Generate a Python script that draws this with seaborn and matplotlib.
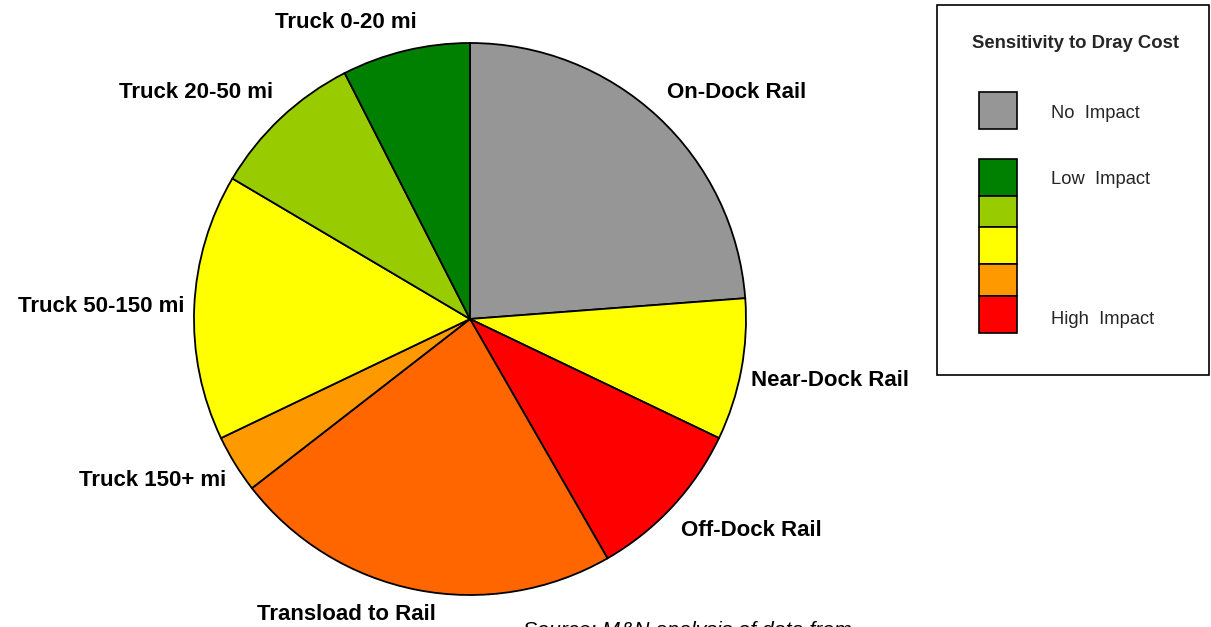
import matplotlib
matplotlib.use("Agg")
import matplotlib.pyplot as plt
import seaborn as sns
from matplotlib.patches import Rectangle

sns.set_theme(style="white")
plt.rcParams['font.family'] = ['Liberation Sans', 'DejaVu Sans']

# Share of volume by mode (clockwise from 12 o'clock)
segments = ['On-Dock Rail', 'Near-Dock Rail', 'Off-Dock Rail', 'Transload to Rail',
            'Truck 150+ mi', 'Truck 50-150 mi', 'Truck 20-50 mi', 'Truck 0-20 mi']
shares = [23.8, 8.3, 9.6, 22.8, 3.4, 15.6, 9.0, 7.5]
seg_colors = ['#969696', '#FFFF00', '#FF0000', '#FF6600',
              '#FF9900', '#FFFF00', '#99CC00', '#008000']

legend_colors = ['#008000', '#99CC00', '#FFFF00', '#FF9900', '#FF0000']
legend_labels = ['No  Impact', 'Low  Impact', 'High  Impact']

W, H = 1211, 627
fig = plt.figure(figsize=(W / 100, H / 100), dpi=100)

# pie
cx, cy, r = 470, 319, 276
ax = fig.add_axes([(cx - r) / W, (H - cy - r) / H, 2 * r / W, 2 * r / H])
ax.pie(shares, colors=seg_colors, startangle=90, counterclock=False,
       wedgeprops=dict(edgecolor='black', linewidth=1.3))
ax.set_xlim(-1, 1)
ax.set_ylim(-1, 1)
ax.axis('off')

# slice labels (pixel positions of the text)
label_pos = {
    'Truck 0-20 mi': (346, 23, 'center'),
    'On-Dock Rail': (667, 93, 'left'),
    'Truck 20-50 mi': (273, 92, 'right'),
    'Truck 50-150 mi': (184, 307, 'right'),
    'Near-Dock Rail': (751, 381, 'left'),
    'Truck 150+ mi': (226, 481, 'right'),
    'Off-Dock Rail': (681, 530, 'left'),
    'Transload to Rail': (346, 615, 'center'),
}
for name in segments:
    x, y, ha = label_pos[name]
    fig.text(x / W, 1 - y / H, name, ha=ha, va='center',
             fontsize=16, fontweight='bold', color='black')

fig.text(523 / W, 1 - 630 / H, 'Source: M&N analysis of data from',
         ha='left', va='center', fontsize=15.3, style='italic', color='black')

# legend box
lax = fig.add_axes([0, 0, 1, 1], facecolor='none')
lax.set_xlim(0, W)
lax.set_ylim(H, 0)
lax.axis('off')
lax.add_patch(Rectangle((937, 5), 272, 370, fill=False, edgecolor='black', linewidth=1.2))
lax.text(1075, 44, 'Sensitivity to Dray Cost', ha='center', va='center',
         fontsize=13.3, fontweight='bold')
lax.add_patch(Rectangle((979, 92), 38, 37, facecolor='#969696', edgecolor='black', linewidth=1.2))
tops = [159, 196, 227, 264, 296]
bottoms = [196, 227, 264, 296, 333]
for c, t, b in zip(legend_colors, tops, bottoms):
    lax.add_patch(Rectangle((979, t), 38, b - t, facecolor=c, edgecolor='black', linewidth=1.2))
for lab, y in zip(legend_labels, [113, 179, 319]):
    lax.text(1051, y, lab, ha='left', va='center', fontsize=13.2)

fig.savefig('out.png', dpi=100)
